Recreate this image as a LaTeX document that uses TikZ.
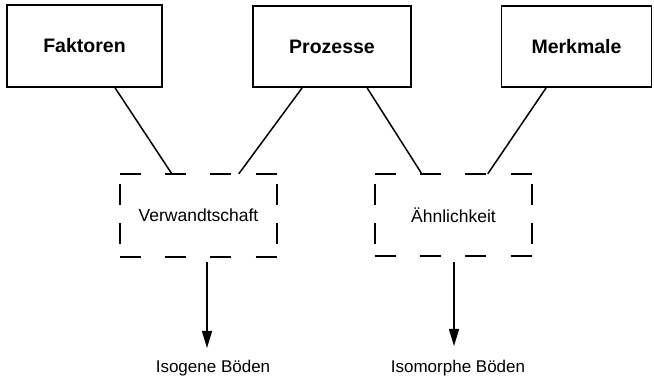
\documentclass[tikz,border=0pt]{standalone}
\usepackage{fontspec}
\setmainfont{Liberation Sans}
\usetikzlibrary{calc,arrows.meta}
\begin{document}
\begin{tikzpicture}[x=1pt,y=-1pt,
  topbox/.style={draw,line width=1.8pt,rectangle,inner sep=0pt,
    font=\fontsize{19.5}{22}\selectfont\bfseries},
  dbox/.style={draw=none,rectangle,inner sep=0pt,
    font=\fontsize{17.5}{20}\selectfont},
  hdash/.style={line width=1.8pt,dash pattern=on 21pt off 24.3pt},
  vdash/.style={line width=1.8pt,dash pattern=on 21pt off 18pt,dash phase=29pt},
  conn/.style={line width=1.5pt},
  arr/.style={line width=1.5pt,-{Triangle[length=17pt,width=10pt]}},
  lbl/.style={inner sep=0pt,font=\fontsize{17}{20}\selectfont}]
\useasboundingbox (0,0) rectangle (654,382);

\node[topbox,minimum width=155pt,minimum height=82pt] (fak) at (84.5,46) {Faktoren};
\node[topbox,minimum width=158pt,minimum height=81pt] (pro) at (332,46.5) {Prozesse};
\node[topbox,minimum width=150pt,minimum height=81pt] (mer) at (576.5,46.5) {Merkmale};

\node[dbox,minimum width=157pt,minimum height=83pt] (ver) at (198.5,215.5) {Verwandtschaft};
\node[dbox,minimum width=157pt,minimum height=82pt] (ahn) at (453.5,215) {Ähnlichkeit};

\foreach \n in {ver,ahn}{
  \draw[hdash] (\n.north west) -- (\n.north east);
  \draw[hdash] (\n.south west) -- (\n.south east);
  \draw[vdash] (\n.north west) -- (\n.south west);
  \draw[vdash] (\n.north east) -- (\n.south east);
}

\draw[conn] ($(fak.south west)+(109,0)$) -- ($(ver.north west)+(52,0)$);
\draw[conn] ($(pro.south west)+(50,0)$) -- ($(ver.north west)+(119,0)$);
\draw[conn] ($(pro.south west)+(115,0)$) -- ($(ahn.north west)+(47,0)$);
\draw[conn] ($(mer.south west)+(45.5,0)$) -- ($(ahn.north west)+(113,0)$);

\node[lbl] (iso) at (213,368) {Isogene Böden};
\node[lbl] (ism) at (458,368) {Isomorphe Böden};
\coordinate (e1) at (207,348);
\coordinate (e2) at (454,346);
\draw[arr] ($(ver.south)+(8.5,5)$) -- (e1);
\draw[arr] ($(ahn.south)+(0.5,6)$) -- (e2);
\end{tikzpicture}
\end{document}
